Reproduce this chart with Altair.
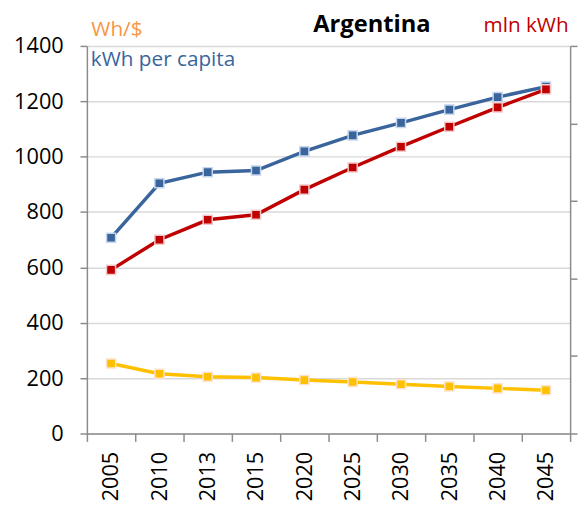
import altair as alt
import pandas as pd

years = ["2005", "2010", "2013", "2015", "2020", "2025", "2030", "2035", "2040", "2045"]
kwh_per_capita = [707, 904, 944, 950, 1019, 1077, 1122, 1170, 1215, 1253]
mln_kwh = [591, 700, 772, 790, 881, 961, 1036, 1108, 1178, 1243]
wh_per_usd = [253, 216, 205, 202, 193, 186, 178, 170, 163, 156]
y_ticks = [0, 200, 400, 600, 800, 1000, 1200, 1400]
right_ticks = [0, 1, 2, 3, 4, 5]

FONT = "Open Sans"
GRAY = "#8C8C8C"
BLUE = "#3A659C"
RED = "#C00000"
YELLOW = "#FFC000"
ORANGE = "#F79646"

x_enc = alt.X(
    "year:O", sort=years,
    scale=alt.Scale(type="band", paddingInner=0, paddingOuter=0),
    axis=alt.Axis(title=None, labelAngle=270, labelAlign="right", labelBaseline="middle",
                  labelPadding=10, tickBand="extent", tickSize=8, tickColor=GRAY, tickWidth=1.5,
                  domainColor=GRAY, domainWidth=1.5, labelFontSize=22, labelFont=FONT,
                  labelColor="#000000", grid=False),
)
y_enc = alt.Y(
    "value:Q",
    scale=alt.Scale(domain=[0, 1400], nice=False),
    axis=alt.Axis(values=y_ticks, format="d", title="Wh/$", titleAngle=0, titleAlign="left",
                  titleBaseline="alphabetic", titleX=4, titleY=-11, titleColor=ORANGE,
                  titleFont=FONT, titleFontSize=21, titleFontWeight="normal",
                  labelFont=FONT, labelFontSize=22, labelColor="#000000", labelPadding=17,
                  tickSize=7, tickColor=GRAY, tickWidth=1.5, domainColor=GRAY, domainWidth=1.5,
                  gridColor="#D9D9D9", gridWidth=1.5),
)

series = [
    ("Wh/$", wh_per_usd, YELLOW, "#FBE3CF"),
    ("kWh per capita", kwh_per_capita, BLUE, "#C3D6EE"),
    ("mln kWh", mln_kwh, RED, "#F2CACA"),
]

layers = []
for name, vals, col, light in series:
    d = pd.DataFrame({"year": years, "value": vals})
    base = alt.Chart(d).encode(x=x_enc, y=y_enc)
    layers.append(base.mark_line(color=col, strokeWidth=3.5))
    layers.append(base.mark_point(shape="square", filled=True, size=85, fill=col,
                                  stroke=light, strokeWidth=1.5, opacity=1))

txt = pd.DataFrame({"t": ["kWh per capita"]})
layers.append(alt.Chart(txt).mark_text(align="left", baseline="alphabetic", font=FONT,
                                        fontSize=21, color=BLUE)
              .encode(text="t:N", x=alt.value(4), y=alt.value(20)))
ttl = pd.DataFrame({"t": ["Argentina"]})
layers.append(alt.Chart(ttl).mark_text(align="center", baseline="alphabetic", font=FONT,
                                        fontSize=24, fontWeight="bold", color="#000000")
              .encode(text="t:N", x=alt.value(289), y=alt.value(-14)))

main = alt.layer(*layers)

rdf = pd.DataFrame({"r": right_ticks})
right = alt.Chart(rdf).mark_point(opacity=0).encode(
    y=alt.Y("r:Q", scale=alt.Scale(domain=[0, 5], nice=False),
            axis=alt.Axis(orient="right", values=right_ticks, labels=False, grid=False,
                          tickSize=7, tickColor=GRAY, tickWidth=1.5, domainColor=GRAY,
                          domainWidth=1.5, title="mln kWh", titleAngle=0, titleAlign="right",
                          titleBaseline="alphabetic", titleX=-2, titleY=-15, titleColor=RED,
                          titleFont=FONT, titleFontSize=21, titleFontWeight="normal"))
)

chart = alt.layer(main, right).resolve_scale(y="independent").properties(
    width=490, height=393,
    autosize=alt.AutoSizeParams(type="none"),
    padding={"left": 80, "top": 35, "right": 9, "bottom": 66},
    background="white",
).configure_view(strokeWidth=0)

chart.save("out.html", embed_options={"renderer": "svg", "actions": False})
